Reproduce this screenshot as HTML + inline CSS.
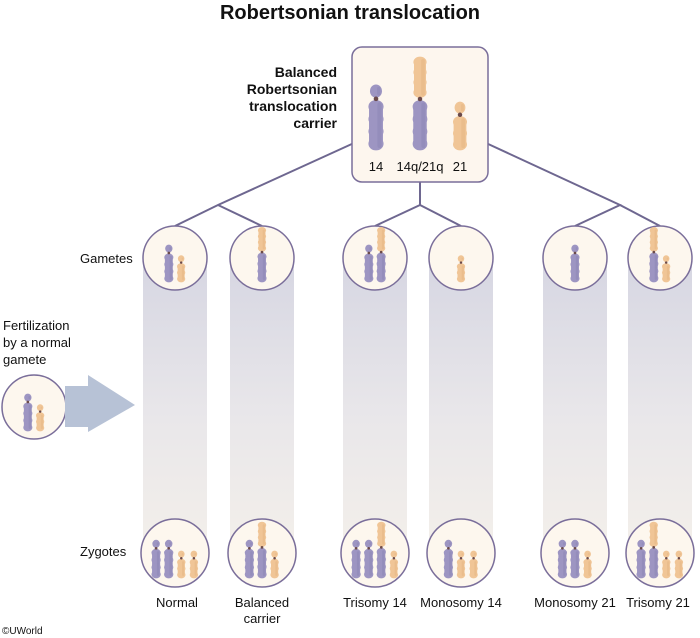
<!DOCTYPE html>
<html><head><meta charset="utf-8">
<style>
html,body{margin:0;padding:0;background:#fff;}
svg{display:block;font-family:"Liberation Sans",Arial,sans-serif;}
</style></head>
<body>
<svg id="s" width="700" height="638" viewBox="0 0 700 638">
<defs>
<linearGradient id="col" x1="0" y1="0" x2="0" y2="1">
<stop offset="0" stop-color="#d6d6e2"/><stop offset="0.55" stop-color="#e9e7ea"/><stop offset="1" stop-color="#f3efea"/>
</linearGradient>
</defs>
<text x="350" y="19" text-anchor="middle" font-size="20" font-weight="bold" fill="#111">Robertsonian translocation</text>
<g id="cols"></g>
<g id="lines" stroke="#6e6790" stroke-width="2" fill="none">
<polyline points="354,143 218,205 175,226"/>
<polyline points="218,205 262,226"/>
<polyline points="420,182 420,205 375,226"/>
<polyline points="420,205 461,226"/>
<polyline points="486,143 620,205 575,226"/>
<polyline points="620,205 660,226"/>
</g>
<rect x="352" y="47" width="136" height="135" rx="10" fill="#fdf6ee" stroke="#7a6e9a" stroke-width="1.5"/>
<g font-size="14" font-weight="bold" fill="#111" text-anchor="end">
<text x="337" y="77">Balanced</text><text x="337" y="94">Robertsonian</text><text x="337" y="111">translocation</text><text x="337" y="128">carrier</text>
</g>
<g font-size="13" fill="#111" text-anchor="middle">
<text x="376" y="171">14</text>
<text x="420" y="171">14q/21q</text>
<text x="460" y="171">21</text>
</g>
<g id="circles"></g>
<g id="chroms"></g>
<g font-size="13" fill="#111">
<text x="80" y="263">Gametes</text>
<text x="80" y="556">Zygotes</text>
<text x="3" y="330">Fertilization</text>
<text x="3" y="347">by a normal</text>
<text x="3" y="364">gamete</text>
</g>
<polygon points="65,386 88,386 88,375 135,405 88,432 88,427 65,427" fill="#b7c2d6"/>
<g font-size="13" fill="#111" text-anchor="middle">
<text x="177" y="607">Normal</text>
<text x="262" y="607">Balanced</text>
<text x="262" y="623">carrier</text>
<text x="375" y="607">Trisomy 14</text>
<text x="461" y="607">Monosomy 14</text>
<text x="575" y="607">Monosomy 21</text>
<text x="658" y="607">Trisomy 21</text>
</g>
<text x="2" y="634" font-size="10" fill="#111">©UWorld</text>
</svg>
<script>
const colX=[175,262,375,461,575,660];
const gametes=[["14","21"],["T"],["14","T"],["21"],["14"],["T","21"]];
const zygotes=[["14","14","21","21"],["14","T","21"],["14","14","T","21"],["14","21","21"],["14","14","21"],["14","T","21","21"]];
const NS="http://www.w3.org/2000/svg";
function el(t,a,p){const e=document.createElementNS(NS,t);for(const k in a)e.setAttribute(k,a[k]);p.appendChild(e);return e;}
const cols=document.getElementById('cols'),circ=document.getElementById('circles'),ch=document.getElementById('chroms');
const P="#9d95c2",PD="#857daf",O="#f0c596",OD="#dfae7c",C="#6b4a4a";
function arm(g,x,y0,y1,w,fill,dark){
  el('rect',{x:x-w/2,y:y0,width:w,height:y1-y0,rx:w/2,fill:fill},g);
  const n=Math.max(1,Math.round((y1-y0)/(w*0.9)));const h=(y1-y0)/n;
  for(let i=0;i<n;i++)el('ellipse',{cx:x,cy:y0+h*(i+0.5),rx:w/2+0.6,ry:h/2+0.4,fill:fill},g);
  el('rect',{x:x+w*0.1,y:y0+2,width:w*0.3,height:Math.max(0,y1-y0-4),rx:w*0.15,fill:dark,opacity:0.35},g);
}
function chrom(x,bottom,s,type){
  const g=el('g',{},ch);
  
  
  if(type==='14'){const t=bottom-42*s;arm(g,x,t,t+8*s,7*s,P,PD);arm(g,x,t+10*s,bottom,9*s,P,PD);el('circle',{cx:x,cy:t+9*s,r:1.5*s,fill:C},g);}
  else if(type==='21'){const t=bottom-30*s;arm(g,x,t,t+7*s,6*s,O,OD);arm(g,x,t+9*s,bottom,8*s,O,OD);el('circle',{cx:x,cy:t+8*s,r:1.4*s,fill:C},g);}
  else{const t=bottom-62*s;arm(g,x,t,t+27*s,8*s,O,OD);arm(g,x,t+29*s,bottom,9*s,P,PD);el('circle',{cx:x,cy:t+28*s,r:1.5*s,fill:C},g);}
}
function circle(cx,cy,r,name){const c=el('circle',{cx:cx,cy:cy,r:r,fill:"#fdf7ee",stroke:"#7a6e9a","stroke-width":1.5},circ);
  }
function group(cx,bottom,s,list){const sp=14*s;const x0=cx-sp*(list.length-1)/2;list.forEach((t,i)=>chrom(x0+i*sp,bottom,s,t));}
colX.forEach((x,i)=>{
  const r=el('rect',{x:x-32,y:258,width:64,height:292,fill:"url(#col)"},cols);
  
  circle(x,258,32,'gamete-circle-'+(i+1));
  circle(x,553,34,'zygote-circle-'+(i+1));
  group(x,282,0.88,gametes[i]);
  group(x,578,0.9,zygotes[i]);
});
circle(34,407,32,'normal-gamete-circle');
group(34,431,0.88,["14","21"]);
chrom(376,150,1.55,"14");chrom(420,150,1.5,"T");chrom(460,150,1.6,"21");
</script>
</body></html>
